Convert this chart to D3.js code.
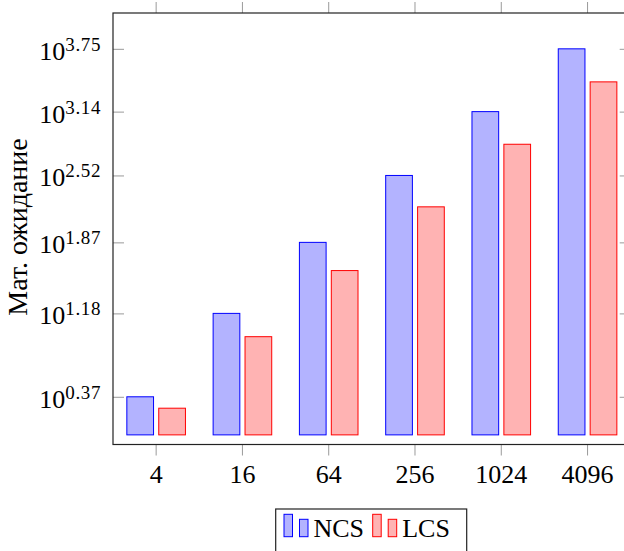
<!DOCTYPE html>
<html>
<head>
<meta charset="utf-8">
<script src="https://cdn.jsdelivr.net/npm/d3@7"></script>
<style>
  html, body { margin: 0; padding: 0; background: #fff; }
  svg { display: block; }
  text { font-family: "Liberation Serif", "DejaVu Serif", serif; fill: #000; }
</style>
</head>
<body>
<svg id="chart" width="624" height="551"></svg>
<script>
// ---- data ----
const categories = ["4", "16", "64", "256", "1024", "4096"];
const seriesNames = ["NCS", "LCS"];
const ncsValues = [2.344, 15.14, 74.13, 331.1, 1380.4, 5623.4];
const lcsValues = [1.816, 8.99, 39.45, 164.1, 665.3, 2685.3];
const yTickExponents = ["0.37", "1.18", "1.87", "2.52", "3.14", "3.75"];
const yLabel = "Мат. ожидание";

const colors = {
  NCS: { fill: "#b3b3ff", stroke: "#0000ff" },
  LCS: { fill: "#ffb3b3", stroke: "#ff0000" }
};

const svg = d3.select("#chart");
const plotLeft = 113, plotRight = 630.7, plotTop = 13, plotBottom = 444.5;

const x = d3.scaleBand().domain(categories).range([plotLeft, plotRight]).padding(0);
const xSub = d3.scaleBand().domain(seriesNames).range([-29.3, 29.3]).paddingInner(0.163);
const y = d3.scaleLog().domain([Math.pow(10, -0.0935), Math.pow(10, 4.098)]).range([plotBottom, plotTop]);
const baseVal = 1;

const data = categories.map((c, i) => ({ cat: c, NCS: ncsValues[i], LCS: lcsValues[i] }));

// bars
const g = svg.append("g");
seriesNames.forEach(s => {
  g.selectAll("rect." + s)
    .data(data)
    .join("rect")
    .attr("class", s)
    .attr("x", d => x(d.cat) + x.bandwidth() / 2 + xSub(s))
    .attr("width", xSub.bandwidth())
    .attr("y", d => y(d[s]))
    .attr("height", d => y(baseVal) - y(d[s]))
    .attr("fill", colors[s].fill)
    .attr("stroke", colors[s].stroke)
    .attr("stroke-width", 1);
});

// x axis bottom (ticks outward)
const tickColor = "#9a9a9a";
const xAxisB = svg.append("g").attr("transform", `translate(0,${plotBottom})`)
  .call(d3.axisBottom(x).tickSize(11).tickSizeOuter(0).tickPadding(9));
xAxisB.select(".domain").remove();
xAxisB.selectAll(".tick line").attr("stroke", tickColor);
xAxisB.selectAll(".tick text").attr("font-size", 26).attr("font-family", "Liberation Serif").attr("fill", "#000");

// x axis top (ticks outward)
const xAxisT = svg.append("g").attr("transform", `translate(0,${plotTop})`)
  .call(d3.axisTop(x).tickSize(11).tickSizeOuter(0).tickFormat(""));
xAxisT.select(".domain").remove();
xAxisT.selectAll(".tick line").attr("stroke", tickColor);

// y axis ticks (inward on both sides)
const yTickVals = yTickExponents.map(e => Math.pow(10, +e));
const yAxisL = svg.append("g").attr("transform", `translate(${plotLeft},0)`)
  .call(d3.axisLeft(y).tickValues(yTickVals).tickSize(-11).tickSizeOuter(0).tickFormat(""));
yAxisL.select(".domain").remove();
yAxisL.selectAll(".tick line").attr("stroke", tickColor);
const yAxisR = svg.append("g").attr("transform", `translate(${plotRight},0)`)
  .call(d3.axisRight(y).tickValues(yTickVals).tickSize(-11).tickSizeOuter(0).tickFormat(""));
yAxisR.select(".domain").remove();
yAxisR.selectAll(".tick line").attr("stroke", tickColor);

// y tick labels 10^e
yTickExponents.forEach((e, i) => {
  const t = svg.append("text")
    .attr("x", 101)
    .attr("y", y(yTickVals[i]) + 11)
    .attr("text-anchor", "end")
    .attr("font-size", 26);
  t.append("tspan").text("10");
  t.append("tspan").attr("font-size", 19).attr("dy", -9).attr("letter-spacing", 0.6).text(e);
});

// frame
svg.append("rect")
  .attr("x", plotLeft).attr("y", plotTop)
  .attr("width", plotRight - plotLeft).attr("height", plotBottom - plotTop)
  .attr("fill", "none").attr("stroke", "#222").attr("stroke-width", 1.2);

// y label
svg.append("text")
  .attr("transform", `translate(27,227) rotate(-90)`)
  .attr("text-anchor", "middle")
  .attr("font-size", 28)
  .text(yLabel);

// legend
const lg = svg.append("g");
lg.append("rect").attr("x", 275.7).attr("y", 509).attr("width", 191).attr("height", 60)
  .attr("fill", "#fff").attr("stroke", "#222").attr("stroke-width", 1.2);
const legendItems = [
  { name: "NCS", x0: 284 },
  { name: "LCS", x0: 372.7 }
];
legendItems.forEach(it => {
  const c = colors[it.name];
  lg.append("rect").attr("x", it.x0).attr("y", 514.3).attr("width", 8.5).attr("height", 22.4)
    .attr("fill", c.fill).attr("stroke", c.stroke).attr("stroke-width", 1);
  lg.append("rect").attr("x", it.x0 + 15.5).attr("y", 519.3).attr("width", 8.5).attr("height", 17.4)
    .attr("fill", c.fill).attr("stroke", c.stroke).attr("stroke-width", 1);
  lg.append("text").attr("x", it.x0 + 29.5).attr("y", 537).attr("font-size", 26).text(it.name);
});
</script>
</body>
</html>
